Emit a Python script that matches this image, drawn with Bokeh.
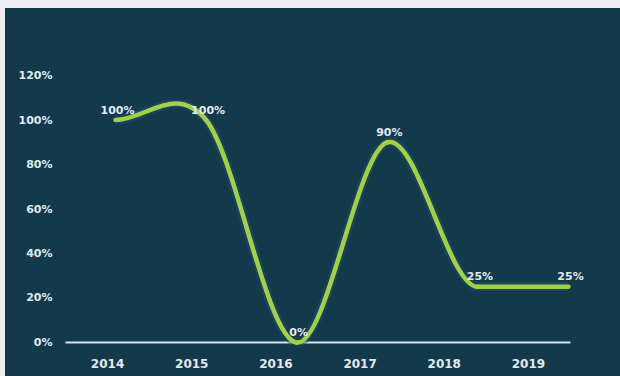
from bokeh.plotting import figure
from bokeh.models import (Range1d, LinearAxis, FixedTicker, PrintfTickFormatter,
                          ColumnDataSource)
from bokeh.layouts import column
from bokeh.embed import file_html
from bokeh.resources import INLINE
from bokeh.core.properties import value

# ---- data ----
years = ["2014", "2015", "2016", "2017", "2018", "2019"]
values = [100, 100, 0, 90, 25, 25]
y_ticks = [0, 20, 40, 60, 80, 100, 120]

BG = "#133a4a"
LINE = "#a0d43a"
TXT = "#e2eaee"
FONT = "DejaVu Sans"

n = len(values)
xs = list(range(n))

p = figure(width=615, height=368, output_backend="svg", toolbar_location=None,
           x_range=Range1d(-0.607, 5.353), y_range=Range1d(-3.6, 129.9),
           min_border_left=55, min_border_right=20, min_border_top=45, min_border_bottom=26,
           background_fill_color=BG, border_fill_color=BG, outline_line_color=None,
           margin=(8, 0, 0, 5), styles={"background-color": BG})
p.xaxis.visible = False
p.xgrid.visible = False
p.ygrid.visible = False
p.outline_line_alpha = 0

# y axis
p.yaxis.ticker = FixedTicker(ticks=y_ticks)
p.yaxis.formatter = PrintfTickFormatter(format="%d%%")
p.yaxis.axis_line_color = None
p.yaxis.major_tick_line_color = None
p.yaxis.minor_tick_line_color = None
p.yaxis.major_label_text_color = TXT
p.yaxis.major_label_text_font = FONT
p.yaxis.major_label_text_font_style = "bold"
p.yaxis.major_label_text_font_size = "11px"
p.yaxis.major_label_standoff = 2

# category axis on its own scale
p.extra_x_ranges = {"cat": Range1d(-0.559, 5.856)}
xax = LinearAxis(x_range_name="cat", ticker=FixedTicker(ticks=xs),
                 major_label_overrides={i: y for i, y in enumerate(years)})
xax.axis_line_color = None
xax.major_tick_line_color = None
xax.minor_tick_line_color = None
xax.major_label_text_color = TXT
xax.major_label_text_font = FONT
xax.major_label_text_font_style = "bold"
xax.major_label_text_font_size = "12px"
xax.major_label_standoff = 2
p.add_layout(xax, "below")

# zero baseline spanning the category bands
p.segment(x0=[-0.5], x1=[n - 0.5], y0=[0], y1=[0], x_range_name="cat",
          line_color="#cfe4ec", line_width=2)

# smooth curve via cubic bezier segments built from the data points
tang = []
for i in range(n):
    a = values[max(i - 1, 0)]
    b = values[min(i + 1, n - 1)]
    t = (b - a) / 2.0
    if i < n - 1 and values[i] == values[i + 1]:
        t = 0.0
    tang.append(t)

seg = dict(x0=[], y0=[], x1=[], y1=[], cx0=[], cy0=[], cx1=[], cy1=[])
for i in range(n - 1):
    seg["x0"].append(xs[i]); seg["y0"].append(values[i])
    seg["x1"].append(xs[i + 1]); seg["y1"].append(values[i + 1])
    seg["cx0"].append(xs[i] + 1 / 3); seg["cy0"].append(values[i] + tang[i] / 3)
    seg["cx1"].append(xs[i + 1] - 1 / 3); seg["cy1"].append(values[i + 1] - tang[i + 1] / 3)
src = ColumnDataSource(seg)

p.bezier(x0="x0", y0="y0", x1="x1", y1="y1", cx0="cx0", cy0="cy0", cx1="cx1", cy1="cy1",
         source=src, line_color="#1e4d8c", line_width=9, line_alpha=0.45)
p.bezier(x0="x0", y0="y0", x1="x1", y1="y1", cx0="cx0", cy0="cy0", cx1="cx1", cy1="cy1",
         source=src, line_color=LINE, line_width=4.5, line_cap="round")

# data labels
lab = ColumnDataSource(dict(x=xs, y=values, t=[f"{v}%" for v in values]))
p.text(x="x", y="y", text="t", source=lab, text_align="center", text_baseline="middle",
       x_offset=2, y_offset=-10, text_color=TXT, text_font=value(FONT),
       text_font_style="bold", text_font_size="11px")

layout = column(p, styles={"background-color": "#eceff2"})
open("out.html", "w").write(file_html(layout, INLINE))
